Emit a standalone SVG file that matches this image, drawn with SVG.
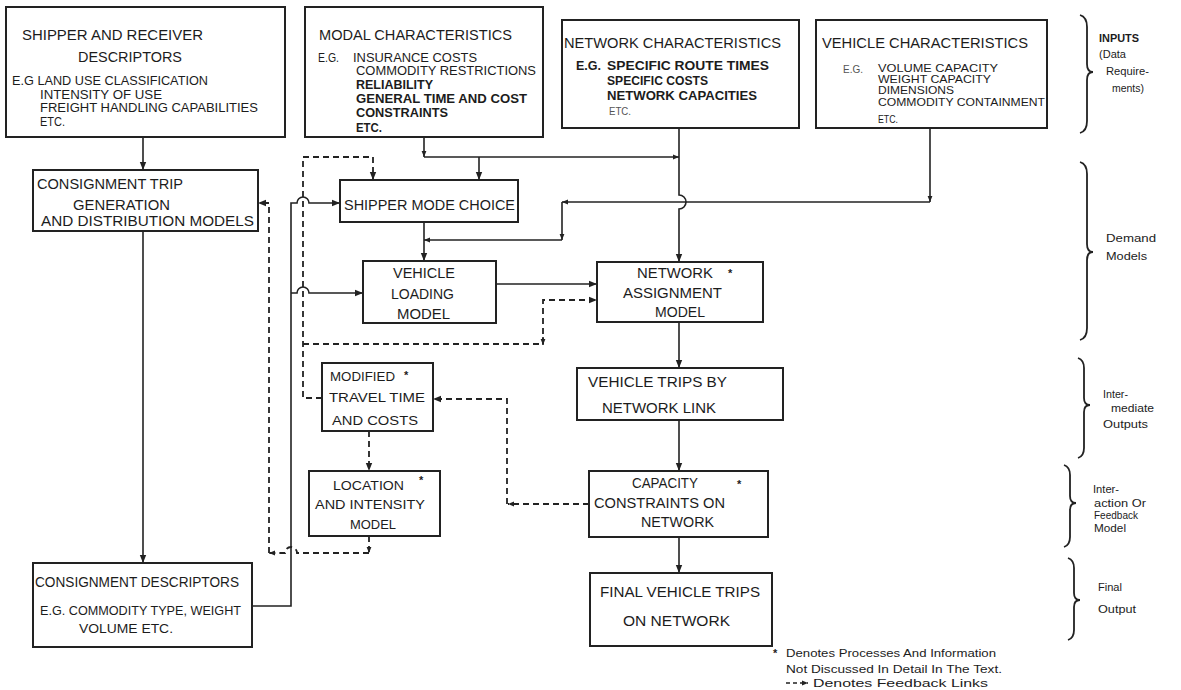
<svg xmlns="http://www.w3.org/2000/svg" width="1181" height="690" viewBox="0 0 1181 690">
<defs>
<style>
.box{fill:#fff;stroke:#222;stroke-width:2}
.ln{fill:none;stroke:#222;stroke-width:1.6}
.dl{fill:none;stroke:#222;stroke-width:1.8;stroke-dasharray:6,4}
.br{fill:none;stroke:#222;stroke-width:1.8}
text{font-family:"Liberation Sans",Arial,sans-serif;fill:#1c1c1c}
.t15{font-size:15px}
.t14{font-size:14px}
.t13{font-size:13px}
.t12{font-size:12px}
.t11{font-size:11px}
.b{font-weight:bold}
.lt{fill:#555}
.ast{font-size:11px;font-weight:bold}
.lab{font-size:11.5px}
</style>
<marker id="ah" viewBox="0 0 10 10" refX="10" refY="5" markerWidth="8" markerHeight="8" markerUnits="userSpaceOnUse" orient="auto"><path d="M0,1 L10,5 L0,9 z" fill="#222"/></marker>
<marker id="as" viewBox="0 0 10 10" refX="10" refY="5" markerWidth="6" markerHeight="6" markerUnits="userSpaceOnUse" orient="auto"><path d="M0,1 L10,5 L0,9 z" fill="#222"/></marker>
</defs>
<rect width="1181" height="690" fill="#fff"/>

<g id="connectors">
<!-- solid -->
<path class="ln" d="M143,137 V170" marker-end="url(#ah)"/>
<path class="ln" d="M143,231 V563" marker-end="url(#ah)"/>
<path class="ln" d="M424,137 V157" marker-end="url(#as)"/>
<path class="ln" d="M424,157 H679" marker-end="url(#as)"/>
<path class="ln" d="M479,157 V180" marker-end="url(#ah)"/>
<path class="ln" d="M679,128 V195 a7,7 0 0 1 0,14 V262" marker-end="url(#ah)"/>
<path class="ln" d="M930,128 V202" marker-end="url(#as)"/>
<path class="ln" d="M930,202 H562" marker-end="url(#as)"/>
<path class="ln" d="M562,202 V240" marker-end="url(#as)"/>
<path class="ln" d="M562,240 H424" marker-end="url(#as)"/>
<path class="ln" d="M424,222 V261" marker-end="url(#ah)"/>
<path class="ln" d="M496,284 H597" marker-end="url(#ah)"/>
<path class="ln" d="M679,322 V368" marker-end="url(#ah)"/>
<path class="ln" d="M679,420 V471" marker-end="url(#ah)"/>
<path class="ln" d="M679,537 V573" marker-end="url(#ah)"/>
<path class="ln" d="M252,606 H291 V203 H297 a6,6 0 0 1 12,0 H340" marker-end="url(#ah)"/>
<path class="ln" d="M291,293 H297 a6,6 0 0 1 12,0 H363" marker-end="url(#ah)"/>
<!-- dashed feedback -->
<path class="dl" d="M322,398 H303 V157 H373 V180" marker-end="url(#ah)"/>
<path class="dl" d="M303,344 H543" />
<path class="ln" d="M543,337 V345" marker-end="url(#as)"/>
<path class="dl" d="M543,344 V300 H597" marker-end="url(#ah)"/>
<path class="dl" d="M589,504 H508" marker-end="url(#as)"/>
<path class="dl" d="M507,504 V399 H433" marker-end="url(#ah)"/>
<path class="dl" d="M369,431 V471" marker-end="url(#ah)"/>
<path class="dl" d="M369,536 V553" marker-end="url(#as)"/>
<path class="dl" d="M369,553 H297 a6,6 0 0 0 -12,0 H269" marker-end="url(#as)"/>
<path class="dl" d="M269,553 V203 H258" marker-end="url(#ah)"/>
</g>

<g id="shipper-receiver">
<rect class="box" x="6" y="7" width="279" height="130"/>
<text class="t15" x="22" y="40" textLength="181" lengthAdjust="spacingAndGlyphs">SHIPPER AND RECEIVER</text>
<text class="t15" x="78" y="62" textLength="104" lengthAdjust="spacingAndGlyphs">DESCRIPTORS</text>
<text class="t12" x="12" y="85" textLength="196" lengthAdjust="spacingAndGlyphs">E.G LAND USE CLASSIFICATION</text>
<text class="t12" x="40" y="99" textLength="122" lengthAdjust="spacingAndGlyphs">INTENSITY OF USE</text>
<text class="t12" x="40" y="112" textLength="218" lengthAdjust="spacingAndGlyphs">FREIGHT HANDLING CAPABILITIES</text>
<text class="t12" x="40" y="126" textLength="25" lengthAdjust="spacingAndGlyphs">ETC.</text>
</g>

<g id="modal">
<rect class="box" x="305" y="7" width="238" height="130"/>
<text class="t15" x="319" y="40" textLength="193" lengthAdjust="spacingAndGlyphs">MODAL CHARACTERISTICS</text>
<text class="t12" x="318" y="62" textLength="21" lengthAdjust="spacingAndGlyphs">E.G.</text>
<text class="t12" x="353" y="62" textLength="124" lengthAdjust="spacingAndGlyphs">INSURANCE COSTS</text>
<text class="t12" x="356" y="75" textLength="180" lengthAdjust="spacingAndGlyphs">COMMODITY RESTRICTIONS</text>
<text class="t12 b" x="356" y="89" textLength="77" lengthAdjust="spacingAndGlyphs">RELIABILITY</text>
<text class="t12 b" x="356" y="103" textLength="171" lengthAdjust="spacingAndGlyphs">GENERAL TIME AND COST</text>
<text class="t12 b" x="356" y="117" textLength="92" lengthAdjust="spacingAndGlyphs">CONSTRAINTS</text>
<text class="t12 b" x="356" y="132" textLength="26" lengthAdjust="spacingAndGlyphs">ETC.</text>
</g>

<g id="network-char">
<rect class="box" x="562" y="20" width="237" height="108"/>
<text class="t15" x="564" y="48" textLength="217" lengthAdjust="spacingAndGlyphs">NETWORK CHARACTERISTICS</text>
<text class="t12 b" x="576" y="70" textLength="25" lengthAdjust="spacingAndGlyphs">E.G.</text>
<text class="t12 b" x="607" y="70" textLength="162" lengthAdjust="spacingAndGlyphs">SPECIFIC ROUTE TIMES</text>
<text class="t12 b" x="607" y="85" textLength="101" lengthAdjust="spacingAndGlyphs">SPECIFIC COSTS</text>
<text class="t12 b" x="607" y="100" textLength="150" lengthAdjust="spacingAndGlyphs">NETWORK CAPACITIES</text>
<text class="t11 lt" x="609" y="115" textLength="22" lengthAdjust="spacingAndGlyphs">ETC.</text>
</g>

<g id="vehicle-char">
<rect class="box" x="816" y="20" width="231" height="108"/>
<text class="t15" x="822" y="48" textLength="206" lengthAdjust="spacingAndGlyphs">VEHICLE CHARACTERISTICS</text>
<text class="t11 lt" x="843" y="73" textLength="20" lengthAdjust="spacingAndGlyphs">E.G.</text>
<text class="t11" x="878" y="72" textLength="120" lengthAdjust="spacingAndGlyphs">VOLUME CAPACITY</text>
<text class="t11" x="878" y="83" textLength="113" lengthAdjust="spacingAndGlyphs">WEIGHT CAPACITY</text>
<text class="t11" x="878" y="94" textLength="76" lengthAdjust="spacingAndGlyphs">DIMENSIONS</text>
<text class="t11" x="878" y="106" textLength="167" lengthAdjust="spacingAndGlyphs">COMMODITY CONTAINMENT</text>
<text class="t11" x="878" y="123" textLength="20" lengthAdjust="spacingAndGlyphs">ETC.</text>
</g>

<g id="consignment-trip">
<rect class="box" x="33" y="170" width="225" height="61"/>
<text class="t14" x="37" y="189" textLength="146" lengthAdjust="spacingAndGlyphs">CONSIGNMENT TRIP</text>
<text class="t14" x="73" y="210" textLength="97" lengthAdjust="spacingAndGlyphs">GENERATION</text>
<text class="t14" x="41" y="226" textLength="213" lengthAdjust="spacingAndGlyphs">AND DISTRIBUTION MODELS</text>
</g>

<g id="shipper-mode-choice">
<rect class="box" x="340" y="180" width="178" height="42"/>
<text class="t15" x="344" y="210" textLength="171" lengthAdjust="spacingAndGlyphs">SHIPPER MODE CHOICE</text>
</g>

<g id="vehicle-loading">
<rect class="box" x="363" y="261" width="133" height="62"/>
<text class="t14" x="393" y="278" textLength="62" lengthAdjust="spacingAndGlyphs">VEHICLE</text>
<text class="t14" x="391" y="299" textLength="63" lengthAdjust="spacingAndGlyphs">LOADING</text>
<text class="t14" x="397" y="319" textLength="53" lengthAdjust="spacingAndGlyphs">MODEL</text>
</g>

<g id="network-assignment">
<rect class="box" x="597" y="262" width="166" height="60"/>
<text class="t14" x="637" y="278" textLength="76" lengthAdjust="spacingAndGlyphs">NETWORK</text>
<text class="ast" x="728" y="277">*</text>
<text class="t14" x="623" y="298" textLength="99" lengthAdjust="spacingAndGlyphs">ASSIGNMENT</text>
<text class="t14" x="655" y="317" textLength="50" lengthAdjust="spacingAndGlyphs">MODEL</text>
</g>

<g id="vehicle-trips-link">
<rect class="box" x="577" y="368" width="206" height="52"/>
<text class="t15" x="588" y="387" textLength="139" lengthAdjust="spacingAndGlyphs">VEHICLE TRIPS BY</text>
<text class="t15" x="602" y="413" textLength="114" lengthAdjust="spacingAndGlyphs">NETWORK LINK</text>
</g>

<g id="modified-travel">
<rect class="box" x="322" y="363" width="111" height="68"/>
<text class="t13" x="330" y="381" textLength="65" lengthAdjust="spacingAndGlyphs">MODIFIED</text>
<text class="ast" x="404" y="379">*</text>
<text class="t13" x="329" y="402" textLength="96" lengthAdjust="spacingAndGlyphs">TRAVEL TIME</text>
<text class="t13" x="332" y="425" textLength="86" lengthAdjust="spacingAndGlyphs">AND COSTS</text>
</g>

<g id="location-intensity">
<rect class="box" x="309" y="471" width="131" height="65"/>
<text class="t13" x="333" y="490" textLength="71" lengthAdjust="spacingAndGlyphs">LOCATION</text>
<text class="ast" x="419" y="484">*</text>
<text class="t13" x="315" y="509" textLength="110" lengthAdjust="spacingAndGlyphs">AND INTENSITY</text>
<text class="t13" x="350" y="529" textLength="46" lengthAdjust="spacingAndGlyphs">MODEL</text>
</g>

<g id="capacity-constraints">
<rect class="box" x="589" y="471" width="179" height="66"/>
<text class="t14" x="632" y="488" textLength="66" lengthAdjust="spacingAndGlyphs">CAPACITY</text>
<text class="ast" x="737" y="488">*</text>
<text class="t14" x="594" y="508" textLength="131" lengthAdjust="spacingAndGlyphs">CONSTRAINTS ON</text>
<text class="t14" x="641" y="527" textLength="73" lengthAdjust="spacingAndGlyphs">NETWORK</text>
</g>

<g id="final-trips">
<rect class="box" x="590" y="573" width="182" height="73"/>
<text class="t15" x="600" y="597" textLength="160" lengthAdjust="spacingAndGlyphs">FINAL VEHICLE TRIPS</text>
<text class="t15" x="623" y="626" textLength="107" lengthAdjust="spacingAndGlyphs">ON NETWORK</text>
</g>

<g id="consignment-descriptors">
<rect class="box" x="33" y="563" width="219" height="84"/>
<text class="t15" x="35" y="587" textLength="204" lengthAdjust="spacingAndGlyphs">CONSIGNMENT DESCRIPTORS</text>
<text class="t12" x="40" y="615" textLength="201" lengthAdjust="spacingAndGlyphs">E.G. COMMODITY TYPE, WEIGHT</text>
<text class="t12" x="79" y="633" textLength="94" lengthAdjust="spacingAndGlyphs">VOLUME ETC.</text>
</g>

<g id="stage-labels">
<path class="br" d="M1080,15 q7,2 7,12 V64 q0,8 6,8 q-6,0 -6,8 V121 q0,10 -7,12"/>
<text class="lab b" x="1099" y="42" textLength="40" lengthAdjust="spacingAndGlyphs">INPUTS</text>
<text class="lab" x="1099" y="58" textLength="27" lengthAdjust="spacingAndGlyphs">(Data</text>
<text class="lab" x="1106" y="75" textLength="43" lengthAdjust="spacingAndGlyphs">Require-</text>
<text class="lab" x="1112" y="92" textLength="32" lengthAdjust="spacingAndGlyphs">ments)</text>

<path class="br" d="M1080,162 q7,2 7,12 V244 q0,8 6,8 q-6,0 -6,8 V328 q0,10 -7,12"/>
<text class="lab" x="1106" y="242" textLength="50" lengthAdjust="spacingAndGlyphs">Demand</text>
<text class="lab" x="1106" y="260" textLength="41" lengthAdjust="spacingAndGlyphs">Models</text>

<path class="br" d="M1078,358 q6,2 6,10 V398 q0,7 6,7 q-6,0 -6,7 V448 q0,8 -6,10"/>
<text class="lab" x="1103" y="398" textLength="25" lengthAdjust="spacingAndGlyphs">Inter-</text>
<text class="lab" x="1111" y="412" textLength="43" lengthAdjust="spacingAndGlyphs">mediate</text>
<text class="lab" x="1103" y="428" textLength="45" lengthAdjust="spacingAndGlyphs">Outputs</text>

<path class="br" d="M1064,465 q6,2 6,10 V496 q0,7 6,7 q-6,0 -6,7 V537 q0,8 -6,10"/>
<text class="lab" x="1093" y="493" textLength="26" lengthAdjust="spacingAndGlyphs">Inter-</text>
<text class="lab" x="1094" y="507" textLength="52" lengthAdjust="spacingAndGlyphs">action Or</text>
<text class="lab" x="1094" y="519" textLength="44" lengthAdjust="spacingAndGlyphs">Feedback</text>
<text class="lab" x="1094" y="532" textLength="32" lengthAdjust="spacingAndGlyphs">Model</text>

<path class="br" d="M1068,558 q6,2 6,10 V593 q0,7 6,7 q-6,0 -6,7 V630 q0,8 -6,10"/>
<text class="lab" x="1098" y="591" textLength="24" lengthAdjust="spacingAndGlyphs">Final</text>
<text class="lab" x="1098" y="613" textLength="38" lengthAdjust="spacingAndGlyphs">Output</text>
</g>

<g id="legend">
<text class="ast" x="773" y="657">*</text>
<text class="lab" x="786" y="657" textLength="210" lengthAdjust="spacingAndGlyphs">Denotes Processes And Information</text>
<text class="lab" x="786" y="673" textLength="216" lengthAdjust="spacingAndGlyphs">Not Discussed In Detail In The Text.</text>
<path d="M786,683 H808" fill="none" stroke="#222" stroke-width="1.4" stroke-dasharray="4,3" marker-end="url(#as)"/>
<text class="lab" x="813" y="687" textLength="175" lengthAdjust="spacingAndGlyphs">Denotes Feedback Links</text>
</g>
</svg>
